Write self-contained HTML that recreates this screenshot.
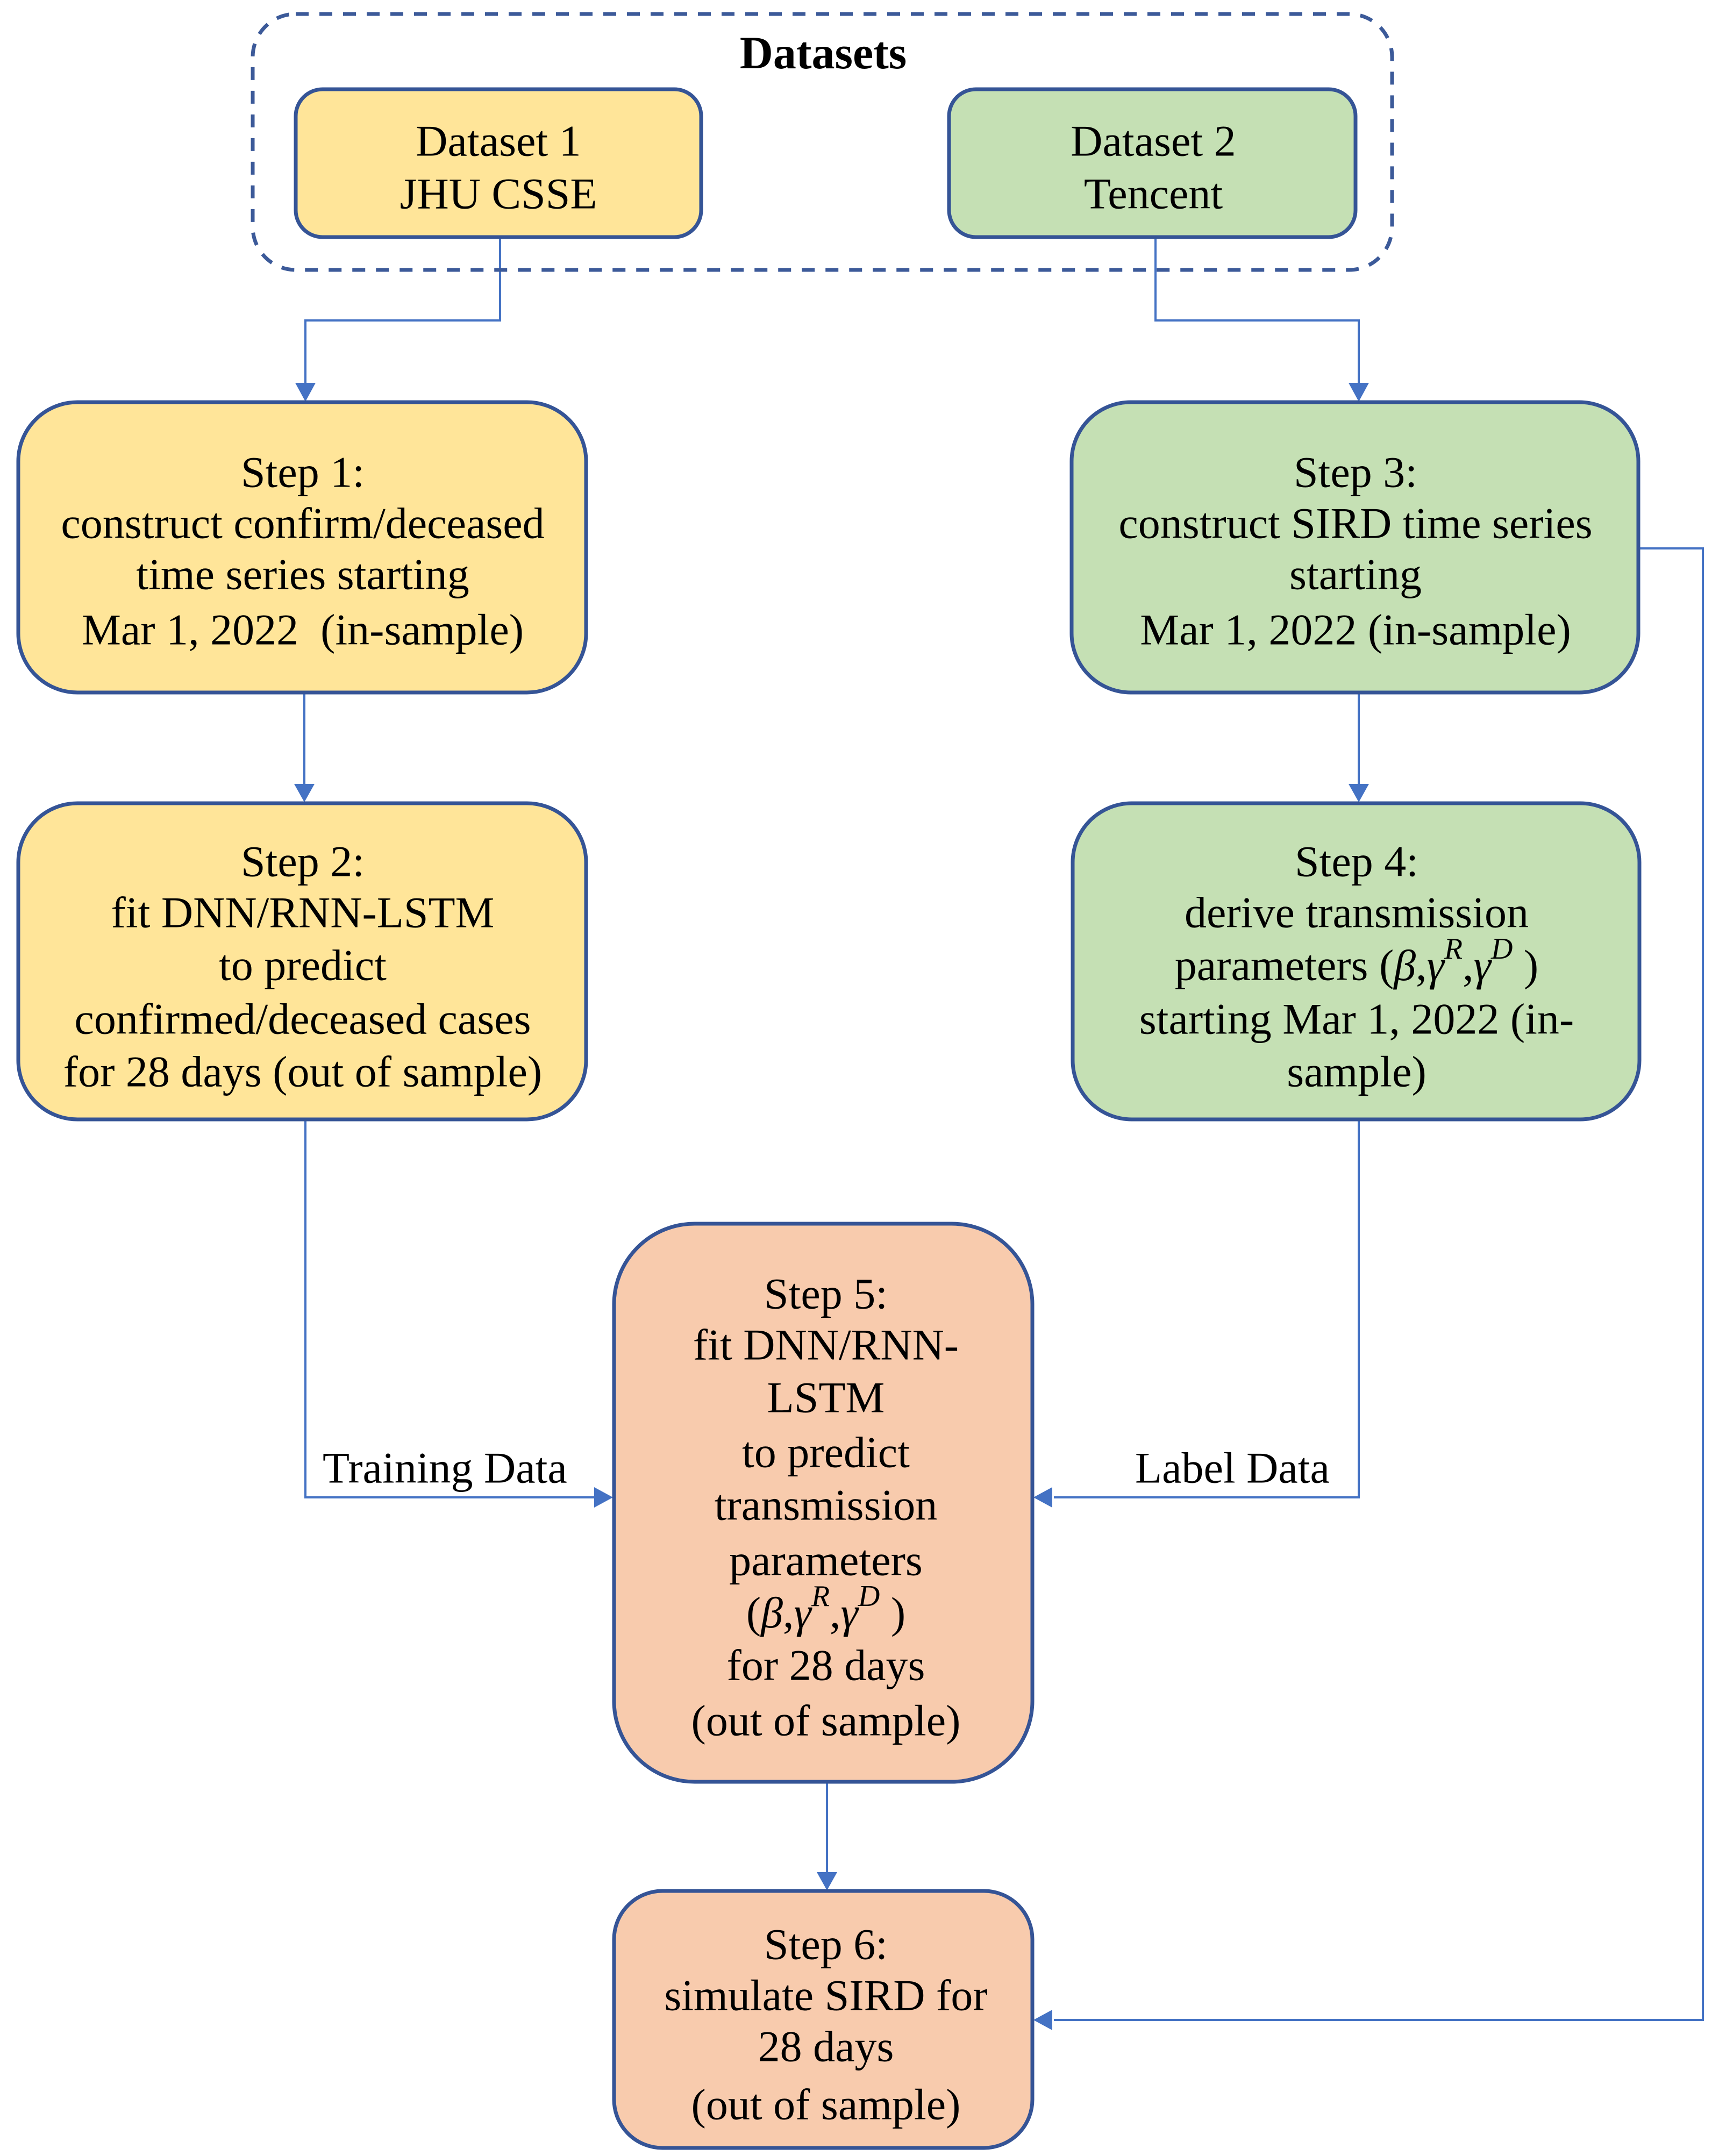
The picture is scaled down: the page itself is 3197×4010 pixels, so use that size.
<!DOCTYPE html>
<html><head><meta charset="utf-8"><style>
html,body{margin:0;padding:0;background:#fff;}
svg{display:block;}
text{font-family:"Liberation Serif",serif;font-size:82px;fill:#000;}
</style></head><body>
<svg width="3197" height="4010" viewBox="0 0 3197 4010" xmlns="http://www.w3.org/2000/svg">
<g fill="none" stroke="#4472C4" stroke-width="4">
<polyline points="930,442 930,596 568,596 568,715"/>
<polyline points="2149,442 2149,596 2527,596 2527,715"/>
<polyline points="566,1286 566,1460"/>
<polyline points="2527,1286 2527,1460"/>
<polyline points="568,2083 568,2785 1108,2785"/>
<polyline points="2527,2083 2527,2785 1960,2785"/>
<polyline points="3045,1020 3167,1020 3167,3757 1960,3757"/>
<polyline points="1538,3315 1538,3484"/>
</g>
<g fill="#4472C4">
<polygon points="549,712 587,712 568,747"/>
<polygon points="2508,712 2546,712 2527,747"/>
<polygon points="547,1458 585,1458 566,1492"/>
<polygon points="2508,1458 2546,1458 2527,1492"/>
<polygon points="1105,2766 1105,2804 1140,2785"/>
<polygon points="1957,2766 1957,2804 1922,2785"/>
<polygon points="1957,3738 1957,3776 1922,3757"/>
<polygon points="1519,3482 1557,3482 1538,3516"/>
</g>
<rect x="470" y="26" width="2119" height="476" rx="80" fill="none" stroke="#3C5A99" stroke-width="7" stroke-dasharray="24,20"/>
<g stroke="#355496" stroke-width="7">
<rect x="550" y="166" width="754" height="275" rx="50" fill="#FFE599"/>
<rect x="1765" y="166" width="756" height="275" rx="50" fill="#C5E0B4"/>
<rect x="34" y="748" width="1056" height="540" rx="110" fill="#FFE599"/>
<rect x="1993" y="748" width="1054" height="540" rx="110" fill="#C5E0B4"/>
<rect x="34" y="1494" width="1056" height="588" rx="110" fill="#FFE599"/>
<rect x="1995" y="1494" width="1054" height="588" rx="110" fill="#C5E0B4"/>
<rect x="1142" y="2276" width="778" height="1038" rx="150" fill="#F8CBAD"/>
<rect x="1142" y="3517" width="778" height="478" rx="90" fill="#F8CBAD"/>
</g>
<g text-anchor="middle" dominant-baseline="central">
<text x="1531" y="98" font-weight="bold" style="font-size:86px">Datasets</text>
<text x="927" y="262">Dataset 1</text>
<text x="927" y="360">JHU CSSE</text>
<text x="2145" y="262">Dataset 2</text>
<text x="2145" y="360">Tencent</text>

<text x="563" y="878">Step 1:</text>
<text x="563" y="973">construct confirm/deceased</text>
<text x="563" y="1068">time series starting</text>
<text x="563" y="1171" xml:space="preserve">Mar 1, 2022  (in-sample)</text>

<text x="2521" y="878">Step 3:</text>
<text x="2521" y="973">construct SIRD time series</text>
<text x="2521" y="1068">starting</text>
<text x="2521" y="1171">Mar 1, 2022 (in-sample)</text>

<text x="563" y="1602">Step 2:</text>
<text x="563" y="1697">fit DNN/RNN-LSTM</text>
<text x="563" y="1795">to predict</text>
<text x="563" y="1895">confirmed/deceased cases</text>
<text x="563" y="1993">for 28 days (out of sample)</text>

<text x="2523" y="1602">Step 4:</text>
<text x="2523" y="1697">derive transmission</text>
<text x="2523" y="1795">parameters (<tspan font-style="italic">β</tspan>,<tspan font-style="italic">γ</tspan><tspan font-style="italic" dy="-30" style="font-size:56px">R</tspan><tspan dy="30">,</tspan><tspan font-style="italic">γ</tspan><tspan font-style="italic" dy="-30" style="font-size:56px">D</tspan><tspan dy="30"> )</tspan></text>
<text x="2523" y="1895">starting Mar 1, 2022 (in-</text>
<text x="2523" y="1993">sample)</text>

<text x="1536" y="2406">Step 5:</text>
<text x="1536" y="2501">fit DNN/RNN-</text>
<text x="1536" y="2599">LSTM</text>
<text x="1536" y="2701">to predict</text>
<text x="1536" y="2799">transmission</text>
<text x="1536" y="2902">parameters</text>
<text x="1536" y="2999">(<tspan font-style="italic">β</tspan>,<tspan font-style="italic">γ</tspan><tspan font-style="italic" dy="-30" style="font-size:56px">R</tspan><tspan dy="30">,</tspan><tspan font-style="italic">γ</tspan><tspan font-style="italic" dy="-30" style="font-size:56px">D</tspan><tspan dy="30"> )</tspan></text>
<text x="1536" y="3097">for 28 days</text>
<text x="1536" y="3200">(out of sample)</text>

<text x="1536" y="3616">Step 6:</text>
<text x="1536" y="3711">simulate SIRD for</text>
<text x="1536" y="3806">28 days</text>
<text x="1536" y="3914">(out of sample)</text>
</g>
<g dominant-baseline="central">
<text x="600" y="2730">Training Data</text>
<text x="2111" y="2730">Label Data</text>
</g>
</svg>
</body></html>
